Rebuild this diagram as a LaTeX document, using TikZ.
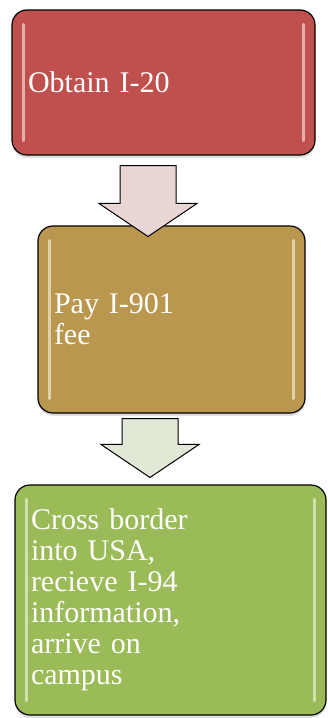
\documentclass[tikz,border=0pt]{standalone}
\usepackage{fontspec}
\setmainfont{Liberation Serif}
\usepackage{xcolor}
\usetikzlibrary{
    shapes.arrows,
    shadows,
    positioning
}
\definecolor{stepred}{HTML}{C0504D}
\definecolor{steptan}{HTML}{B9974F}
\definecolor{stepgreen}{HTML}{9BBB59}
\definecolor{arrowpink}{HTML}{EAD5D5}
\definecolor{arrowsage}{HTML}{E2E8D6}
\tikzset{stepbox/.style={draw=black, line width=1.2pt, rounded corners=15pt, text=white, align=left, inner xsep=16pt, inner ysep=0pt, font=\fontsize{30}{31}\selectfont, drop shadow={opacity=0.25, shadow xshift=0pt, shadow yshift=-3pt}}}
\tikzset{stepdown/.style={single arrow, draw=black, line width=1pt, rotate=-90, anchor=tail, inner xsep=0pt, inner ysep=27.5pt, text height=0pt, text depth=0pt, single arrow head extend=21pt, single arrow tip angle=112}}
\tikzset{glint/.style={white, opacity=0.55, line width=3pt, line cap=round}}

\begin{document}
\begin{tikzpicture}[x=1pt, y=-1pt]
                        \useasboundingbox (0, 0) rectangle (328, 718);

                        \node[stepbox, fill=stepred, text width=271pt, minimum height=145pt] (obtain) at (163.5, 82.5) {Obtain I-20};
                        \node[stepbox, fill=steptan, text width=235pt, minimum height=187pt] (pay) at (171.5, 319.5) {Pay I-901\\fee};
                        \node[stepbox, fill=stepgreen, text width=279pt, minimum height=230pt] (cross) at (170.5, 600) {Cross border\\into USA,\\recieve I-94\\information,\\arrive on\\campus};

                        \draw[glint] ([shift={(12, 15)}]obtain.north west) -- ([shift={(12, -15)}]obtain.south west);
                        \draw[glint] ([shift={(-12, 15)}]obtain.north east) -- ([shift={(-12, -15)}]obtain.south east);
                        \draw[glint] ([shift={(12, 15)}]pay.north west) -- ([shift={(12, -15)}]pay.south west);
                        \draw[glint] ([shift={(-12, 15)}]pay.north east) -- ([shift={(-12, -15)}]pay.south east);
                        \draw[glint] ([shift={(12, 15)}]cross.north west) -- ([shift={(12, -15)}]cross.south west);
                        \draw[glint] ([shift={(-12, 15)}]cross.north east) -- ([shift={(-12, -15)}]cross.south east);

                        \node[stepdown, fill=arrowpink, minimum height=71pt] (firstarrow) at (148, 165) {};
                        \node[stepdown, fill=arrowsage, minimum height=59pt] (secondarrow) at (150, 418) {};
                    \end{tikzpicture}
\end{document}
